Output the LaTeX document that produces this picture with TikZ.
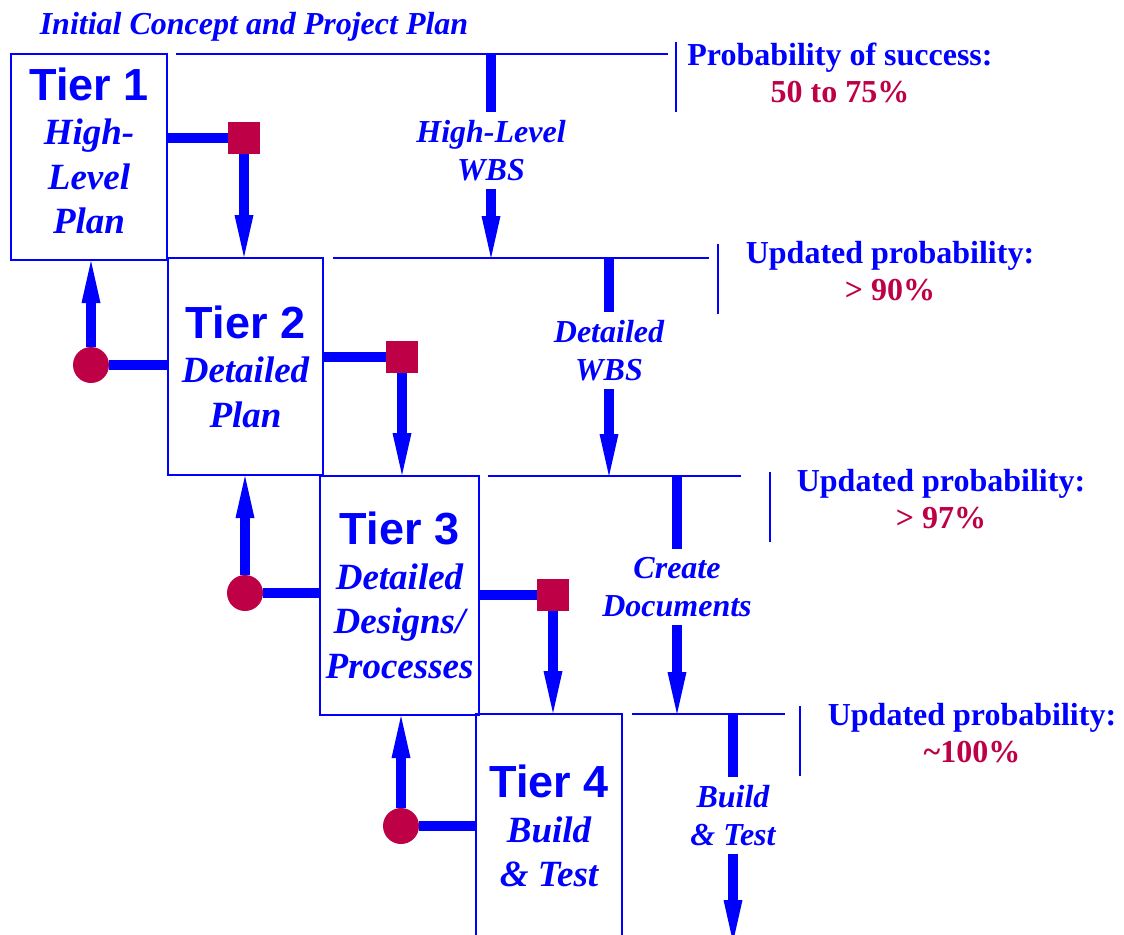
\documentclass[tikz,border=0pt]{standalone}
\usepackage{fontspec}
\setmainfont{Liberation Serif}
\newfontfamily\tierfont{Liberation Sans}
\usetikzlibrary{arrows.meta}
\definecolor{crimson}{RGB}{190,0,70}
\newcommand{\tiername}[1]{{\tierfont\upshape\bfseries\fontsize{45}{44.5}\selectfont Tier #1}}

\begin{document}
\begin{tikzpicture}[x=1pt, y=-1pt,
        tier/.style={draw=blue, line width=2pt, text=blue, align=center, inner sep=0pt, font=\bfseries\itshape\fontsize{37}{44.5}\selectfont},
        lbl/.style={text=blue, align=center, inner sep=8pt, font=\bfseries\itshape\fontsize{32}{38}\selectfont},
        note/.style={text=blue, align=center, inner sep=0pt, font=\bfseries\fontsize{32}{37}\selectfont},
        sq/.style={fill=crimson, minimum size=32pt, inner sep=0pt},
        dot/.style={circle, fill=crimson, minimum size=36pt, inner sep=0pt},
        arrow/.style={draw=blue, line width=10pt, -{Triangle[length=42pt,width=19pt,line width=0pt]}},
        bar/.style={draw=blue, line width=10pt},
        hline/.style={draw=blue, line width=1.5pt}
    ]
        \useasboundingbox (0,0) rectangle (1124,934);

        % Title
        \node[lbl, inner sep=0pt] (title) at (254,26.5) {Initial Concept and Project Plan};

        % Tier boxes (absolute positioning)
        \node[tier, minimum width=156pt, minimum height=206pt] (t1) at (89,157) {\tiername{1}\\High-\\Level\\Plan\rule[-13pt]{0pt}{13pt}};
        \node[tier, minimum width=155pt, minimum height=217pt] (t2) at (245.5,366.5) {\tiername{2}\\Detailed\\Plan};
        \node[tier, minimum width=159pt, minimum height=239pt] (t3) at (399.5,595.5) {\tiername{3}\\Detailed\\Designs/\\Processes};
        \node[tier, minimum width=146pt, minimum height=224pt] (t4) at (549,826) {\tiername{4}\\Build\\\& Test};

        % Squares and dots
        \node[sq] (s1) at (244,138) {};
        \node[sq] (s2) at (402,357) {};
        \node[sq] (s3) at (553,595) {};
        \node[dot] (c1) at (91,365) {};
        \node[dot] (c2) at (245,593) {};
        \node[dot] (c3) at (401,826) {};

        % Forward links
        \draw[bar] (s1 -| t1.east) -- (s1);
        \draw[arrow] (s1) -- (s1 |- t2.north);
        \draw[bar] (s2 -| t2.east) -- (s2);
        \draw[arrow] (s2) -- (s2 |- t3.north);
        \draw[bar] (s3 -| t3.east) -- (s3);
        \draw[arrow] (s3) -- (s3 |- t4.north);

        % Feedback links
        \draw[bar] (c1) -- (c1 -| t2.west);
        \draw[arrow] (c1) -- (c1 |- t1.south);
        \draw[bar] (c2) -- (c2 -| t3.west);
        \draw[arrow] (c2) -- (c2 |- t2.south);
        \draw[bar] (c3) -- (c3 -| t4.west);
        \draw[arrow] (c3) -- (c3 |- t3.south);

        % Milestone lines
        \coordinate (a1) at (176,54);  \coordinate (b1) at (668,54);
        \coordinate (a2) at (333,258); \coordinate (b2) at (709,258);
        \coordinate (a3) at (488,476); \coordinate (b3) at (741,476);
        \coordinate (a4) at (632,714); \coordinate (b4) at (785,714);
        \coordinate (end) at (731,942);
        \draw[hline] (a1) -- (b1);
        \draw[hline] (a2) -- (b2);
        \draw[hline] (a3) -- (b3);
        \draw[hline] (a4) -- (b4);
        \draw[hline] (676,42) -- (676,112);
        \draw[hline] (718,244) -- (718,314);
        \draw[hline] (770,472) -- (770,542);
        \draw[hline] (800,706) -- (800,776);

        % Work products
        \node[lbl] (w1) at (491,150.5) {High-Level\\WBS};
        \node[lbl] (w2) at (609,350.5) {Detailed\\WBS};
        \node[lbl] (w3) at (677,587) {Create\\Documents};
        \node[lbl] (w4) at (733,815.5) {Build\\\& Test};
        \draw[bar] (w1 |- a1) -- (w1.north);
        \draw[arrow] (w1.south) -- (w1 |- a2);
        \draw[bar] (w2 |- a2) -- (w2.north);
        \draw[arrow] (w2.south) -- (w2 |- a3);
        \draw[bar] (w3 |- a3) -- (w3.north);
        \draw[arrow] (w3.south) -- (w3 |- a4);
        \draw[bar] (w4 |- a4) -- (w4.north);
        \draw[arrow] (w4.south) -- (w4 |- end);

        % Probabilities
        \node[note] (p1) at (840,73) {Probability of success:\\\textcolor{crimson}{50 to 75\%}};
        \node[note] (p2) at (890,271) {Updated probability:\\\textcolor{crimson}{> 90\%}};
        \node[note] (p3) at (941,499) {Updated probability:\\\textcolor{crimson}{> 97\%}};
        \node[note] (p4) at (972,733) {Updated probability:\\\textcolor{crimson}{\textasciitilde 100\%}};

    \end{tikzpicture}
\end{document}
